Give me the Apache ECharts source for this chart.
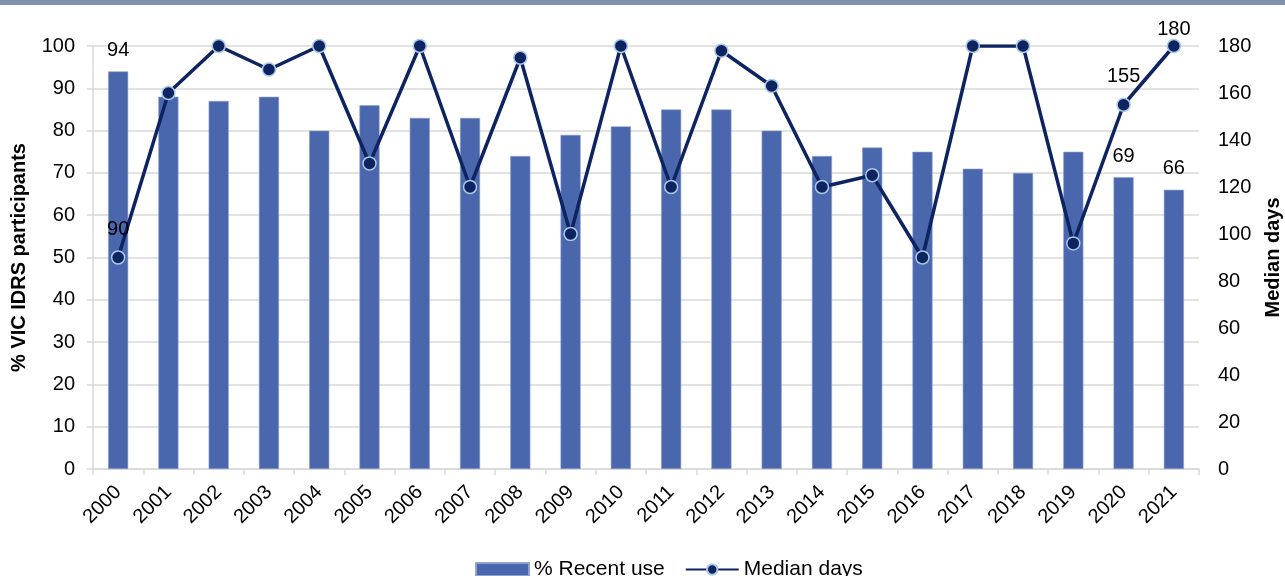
<!DOCTYPE html>
<html>
<head>
<meta charset="utf-8">
<script src="https://cdn.jsdelivr.net/npm/echarts@6/dist/echarts.min.js"></script>
<style>
html,body{margin:0;padding:0;background:#fff;}
#chart{width:1285px;height:576px;}
</style>
</head>
<body>
<div id="chart"></div>
<script>
const years = ['2000','2001','2002','2003','2004','2005','2006','2007','2008','2009','2010','2011','2012','2013','2014','2015','2016','2017','2018','2019','2020','2021'];
const recentUse = [94,88,87,88,80,86,83,83,74,79,81,85,85,80,74,76,75,71,70,75,69,66];
const medianDays = [90,160,180,170,180,130,180,120,175,100,180,120,178,163,120,125,90,180,180,96,155,180];
const leftTicks = [0,100,10];
const rightTicks = [0,180,20];
const barLabelIdx = [0,20,21];
const lineLabelIdx = [0,20,21];

const FONT = 'Liberation Sans, Arial, sans-serif';
const FS = 20;
const lineLabelDist = {0: 11, 20: 11, 21: -1};

const barData = recentUse.map((v,i)=>{
  if (barLabelIdx.indexOf(i) >= 0) {
    return {value:v, label:{show:true, position:'top', distance:11, fontSize:FS, color:'#000', fontFamily:FONT}};
  }
  return v;
});
const lineData = medianDays.map((v,i)=>{
  if (lineLabelIdx.indexOf(i) >= 0) {
    return {value:v, label:{show:true, position:'top', distance:lineLabelDist[i], fontSize:FS, color:'#000', fontFamily:FONT}};
  }
  return v;
});

const chart = echarts.init(document.getElementById('chart'));
chart.setOption({
  animation:false,
  textStyle:{fontFamily:FONT},
  graphic:[{type:'rect', left:0, top:0, shape:{width:1285, height:5}, style:{fill:'#7f90aa'}}],
  grid:{left:93, right:86, top:46, bottom:107, containLabel:false, outerBoundsMode:'none'},
  legend:{
    bottom:-4, left:475, padding:0,
    itemWidth:53, itemHeight:13, itemGap:20,
    textStyle:{fontSize:21, color:'#000', fontFamily:FONT},
    data:[{name:'% Recent use', icon:'rect'}, {name:'Median days'}]
  },
  xAxis:{
    type:'category', data:years,
    axisLine:{show:true, lineStyle:{color:'#d9d9d9', width:1.5}},
    axisTick:{show:true, length:6, lineStyle:{color:'#d9d9d9', width:1.5}},
    axisLabel:{rotate:45, fontSize:FS, color:'#000', margin:20, fontFamily:FONT}
  },
  yAxis:[
    {
      type:'value', min:leftTicks[0], max:leftTicks[1], interval:leftTicks[2],
      name:'% VIC IDRS participants', nameLocation:'middle', nameGap:64, nameRotate:90,
      nameTextStyle:{fontSize:FS, fontWeight:'bold', color:'#000', fontFamily:FONT},
      axisLine:{show:true, lineStyle:{color:'#d9d9d9', width:1.5}},
      axisTick:{show:true, length:6, lineStyle:{color:'#d9d9d9', width:1.5}},
      axisLabel:{fontSize:FS, color:'#000', margin:18, fontFamily:FONT},
      splitLine:{show:true, lineStyle:{color:'#d9d9d9', width:1.5}}
    },
    {
      type:'value', min:rightTicks[0], max:rightTicks[1], interval:rightTicks[2],
      name:'Median days', nameLocation:'middle', nameGap:64, nameRotate:90,
      nameTextStyle:{fontSize:FS, fontWeight:'bold', color:'#000', fontFamily:FONT},
      axisLine:{show:false}, axisTick:{show:false},
      axisLabel:{fontSize:FS, color:'#000', margin:19, fontFamily:FONT},
      splitLine:{show:false}
    }
  ],
  series:[
    {
      name:'% Recent use', type:'bar', yAxisIndex:0, data:barData,
      barWidth:'40%',
      itemStyle:{color:'#4a66ad', borderColor:'#8ea3cf', borderWidth:0.6}
    },
    {
      name:'Median days', type:'line', yAxisIndex:1, data:lineData,
      symbol:'circle', symbolSize:13,
      lineStyle:{color:'#0d2460', width:3.5},
      itemStyle:{color:'#0d2460', borderColor:'#a9c8e8', borderWidth:1.5},
      z:5
    }
  ]
});
</script>
</body>
</html>
